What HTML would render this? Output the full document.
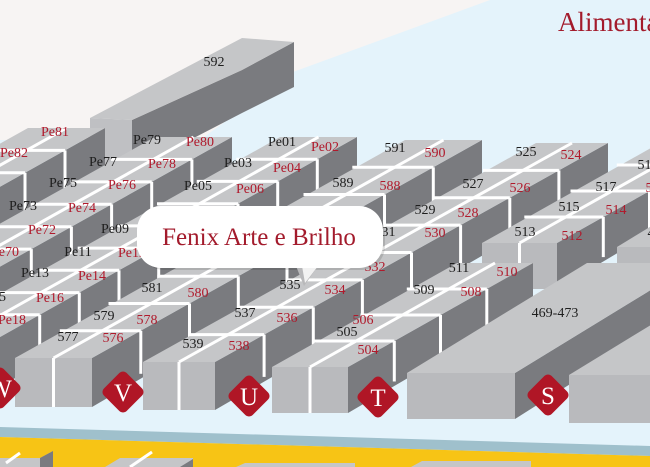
<!DOCTYPE html>
<html><head><meta charset="utf-8"><style>
html,body{margin:0;padding:0;width:650px;height:467px;overflow:hidden;background:#e4f3fb}
svg{display:block}
.b{font-family:"Liberation Serif",serif;font-size:14px;fill:#1e1e1e;text-anchor:middle}
.r{font-family:"Liberation Serif",serif;font-size:14px;fill:#b01a2c;text-anchor:middle}
.d{font-family:"Liberation Serif",serif;font-size:25px;fill:#fff;text-anchor:middle}
</style></head><body>
<svg id="s" width="650" height="467" viewBox="0 0 650 467" xmlns="http://www.w3.org/2000/svg">
<rect x="0" y="0" width="650" height="467" fill="#e4f3fb"/>
<polygon points="0,0 490,0 293,72 200,140 0,140" fill="#f7f4f3"/>
<g id="shapes"></g>
<polygon points="0,427 650,446 650,456 0,437" fill="#9fc0cc"/>
<polygon points="0,437 650,456 650,467 0,467" fill="#f7c415"/>
<polygon points="0,458 40,458 53,451 53,467 0,467" fill="#c5c6c8"/>
<polygon points="40,458 53,451 53,467 40,467" fill="#7a7b7f"/>
<line x1="6" y1="463" x2="20" y2="453" stroke="#fff" stroke-width="3"/>
<polygon points="105,467 120,458 193,458 193,467" fill="#c5c6c8"/>
<polygon points="180,467 193,459 193,467" fill="#7a7b7f"/>
<line x1="130" y1="467" x2="152" y2="452" stroke="#fff" stroke-width="3"/>
<polygon points="236,467 245,463 355,463 355,467" fill="#c5c6c8"/>
<polygon points="411,467 422,461 531,461 531,467" fill="#c5c6c8"/>
<g id="dia"></g>
<g>
<text x="214" y="66" class="b">592</text>
<text x="55" y="136" class="r">Pe81</text><text x="14" y="157" class="r">Pe82</text>
<text x="147" y="144" class="b">Pe79</text><text x="200" y="146" class="r">Pe80</text>
<text x="103" y="166" class="b">Pe77</text><text x="162" y="168" class="r">Pe78</text>
<text x="63" y="187" class="b">Pe75</text><text x="122" y="189" class="r">Pe76</text>
<text x="23" y="210" class="b">Pe73</text><text x="82" y="212" class="r">Pe74</text>
<text x="42" y="234" class="r">Pe72</text><text x="5" y="256" class="r">Pe70</text>
<text x="282" y="146" class="b">Pe01</text><text x="325" y="151" class="r">Pe02</text>
<text x="238" y="167" class="b">Pe03</text><text x="287" y="172" class="r">Pe04</text>
<text x="198" y="190" class="b">Pe05</text><text x="250" y="193" class="r">Pe06</text>
<text x="115" y="233" class="b">Pe09</text>
<text x="78" y="256" class="b">Pe11</text><text x="132" y="257" class="r">Pe12</text>
<text x="35" y="277" class="b">Pe13</text><text x="92" y="280" class="r">Pe14</text>
<text x="-8" y="301" class="b">Pe15</text><text x="50" y="302" class="r">Pe16</text>
<text x="12" y="324" class="r">Pe18</text>
<text x="395" y="152" class="b">591</text><text x="435" y="157" class="r">590</text>
<text x="343" y="187" class="b">589</text><text x="390" y="190" class="r">588</text>
<text x="152" y="292" class="b">581</text><text x="198" y="297" class="r">580</text>
<text x="104" y="320" class="b">579</text><text x="147" y="324" class="r">578</text>
<text x="68" y="341" class="b">577</text><text x="113" y="342" class="r">576</text>
<text x="526" y="156" class="b">525</text><text x="571" y="159" class="r">524</text>
<text x="473" y="188" class="b">527</text><text x="520" y="192" class="r">526</text>
<text x="425" y="214" class="b">529</text><text x="468" y="217" class="r">528</text>
<text x="385" y="236" class="b">531</text><text x="435" y="237" class="r">530</text>
<text x="375" y="271" class="r">532</text>
<text x="290" y="289" class="b">535</text><text x="335" y="294" class="r">534</text>
<text x="245" y="317" class="b">537</text><text x="287" y="322" class="r">536</text>
<text x="193" y="348" class="b">539</text><text x="239" y="350" class="r">538</text>
<text x="459" y="272" class="b">511</text><text x="507" y="276" class="r">510</text>
<text x="424" y="294" class="b">509</text><text x="471" y="296" class="r">508</text>
<text x="363" y="324" class="r">506</text>
<text x="347" y="336" class="b">505</text><text x="368" y="354" class="r">504</text>
<text x="525" y="236" class="b">513</text><text x="572" y="240" class="r">512</text>
<text x="569" y="211" class="b">515</text><text x="616" y="214" class="r">514</text>
<text x="606" y="191" class="b">517</text><text x="656" y="192" class="r">516</text>
<text x="648" y="169" class="b">519</text>
<text x="658" y="237" class="b">469</text>
<text x="555" y="317" class="b">469-473</text>
</g>
<g>
<rect x="140" y="209" width="245" height="61" rx="24" fill="#000" opacity="0.12"/>
<polygon points="296,266 318,266 304,286" fill="#b8b8ba"/>
<polygon points="302,266 318,266 305,283" fill="#f2f2f2"/>
<rect x="137" y="206" width="246" height="62" rx="24" fill="#fff"/>
<text x="259" y="245" style="font-family:'Liberation Serif',serif;font-size:25px;fill:#a31b2c;text-anchor:middle">Fenix Arte e Brilho</text>
</g>
<text x="558" y="31" style="font-family:'Liberation Serif',serif;font-size:27px;fill:#a31b2c">Alimentação</text>
</svg>
<script>
(function(){
var g=document.getElementById('shapes'),h='';
var TOP='#c5c6c8',FR='#b9babd',DK='#7a7b7f';
function P(a,c){return '<polygon points="'+a.map(function(p){return p[0].toFixed(1)+','+p[1].toFixed(1)}).join(' ')+'" fill="'+c+'"/>';}
function L(x1,y1,x2,y2){return '<line x1="'+x1.toFixed(1)+'" y1="'+y1.toFixed(1)+'" x2="'+x2.toFixed(1)+'" y2="'+y2.toFixed(1)+'" stroke="#fff" stroke-width="3"/>';}
function prism(fx,fy,w,ht,lx,ly,hb,n,noCenter){
 var s='';
 s+=P([[fx+w,fy],[fx+w+lx,fy+ly],[fx+w+lx,fy+ly+hb],[fx+w,fy+ht]],DK);
 s+=P([[fx,fy],[fx+w,fy],[fx+w,fy+ht],[fx,fy+ht]],FR);
 s+=P([[fx,fy],[fx+w,fy],[fx+w+lx,fy+ly],[fx+lx,fy+ly]],TOP);
 if(!noCenter){var m=fx+w/2;s+=L(m,fy+ht,m,fy)+L(m,fy,m+lx,fy+ly);}
 for(var k=1;k<n;k++){var t=k/n,x=fx+t*lx,y=fy+t*ly,hh=ht+(hb-ht)*t;
  s+=L(x-4,y,x+w,y)+L(x+w,y,x+w,y+hh*0.9);}
 return s;
}
h+=P([[132,120],[242,70],[294,42],[294,87],[242,113],[132,170]],DK);
h+=P([[90,118],[132,120],[132,170],[90,170]],'#bfc0c3');
h+=P([[90,118],[242,38],[294,42],[242,70],[132,120]],TOP);
h+=prism(-172,240,77,50,200,-112,44,5);
h+=prism(-126,294,77,50,281,-157,42,7);
h+=prism(-77,337,77,50,357,-200,40,9);
h+=prism(15,358,77,49,390,-218,40,8);
h+=prism(143,362,72,48,393,-219,40,8);
h+=prism(482,243,75,46,185,-104,40,4);
h+=prism(617,247,80,45,180,-110,40,1,true);
h+=prism(272,367,76,46,185,-104,42,4);
h+=prism(407,373,108,46,180,-110,42,1,true);
h+=prism(569,375,100,48,180,-110,42,1,true);
g.innerHTML=h;
var d='',D=[[0,388,'W'],[123,392,'V'],[249,396,'U'],[378,397,'T'],[548,395,'S']];
D.forEach(function(a){d+='<rect x="'+(a[0]-16)+'" y="'+(a[1]-16)+'" width="32" height="32" rx="5" fill="#b01626" transform="rotate(45 '+a[0]+' '+a[1]+')"/>';
d+='<text x="'+a[0]+'" y="'+(a[1]+9)+'" class="d">'+a[2]+'</text>';});
document.getElementById('dia').innerHTML=d;
})();
</script>
</body></html>
